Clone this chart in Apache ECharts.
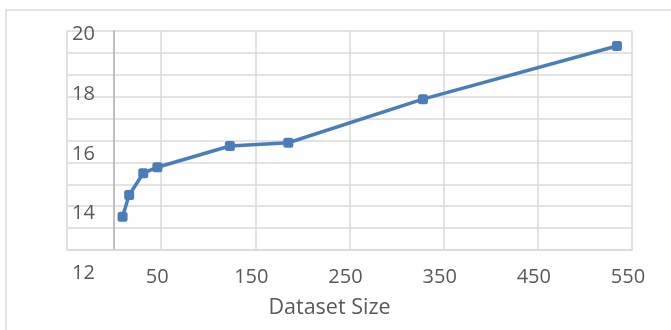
<!DOCTYPE html>
<html>
<head>
<meta charset="utf-8">
<script src="https://cdn.jsdelivr.net/npm/echarts@6/dist/echarts.min.js"></script>
<style>
html,body{margin:0;padding:0;background:#fff;}
#chart{width:671px;height:330px;}
</style>
</head>
<body>
<div id="chart"></div>
<script>
// Data
var datasetSize = [9, 16, 31, 46, 123, 185, 328, 534];
var scoreValues = [13.89, 14.62, 15.35, 15.55, 16.26, 16.37, 17.83, 19.61];
var yTickLabels = [12, 14, 16, 18, 20];
var xTickLabels = [50, 150, 250, 350, 450, 550];
var xAxisTitle = 'Dataset Size';

var textColor = '#595959';
var gridColor = '#d9d9d9';
var lineColor = '#4a7ebb';
var fontFamily = '"Open Sans", "Liberation Sans", sans-serif';

var points = datasetSize.map(function (x, i) { return [x, scoreValues[i]]; });

var chart = echarts.init(document.getElementById('chart'), null, {renderer: 'canvas'});
chart.setOption({
  animation: false,
  backgroundColor: '#fff',
  graphic: [{
    type: 'rect',
    shape: {x: 6, y: 10, width: 700, height: 400},
    style: {fill: 'none', stroke: gridColor, lineWidth: 1.5},
    silent: true
  }],
  grid: [
    {left: 67, right: 39, top: 31, bottom: 80, containLabel: false},
    {left: 67, right: 39, top: 34.4, bottom: 56.8, containLabel: false}
  ],
  xAxis: [
    {
      type: 'value', gridIndex: 0, min: -50, max: 550, interval: 100,
      axisLine: {show: true, onZero: false, lineStyle: {color: gridColor, width: 1.5}},
      axisTick: {show: false},
      splitLine: {show: true, lineStyle: {color: gridColor, width: 1.5}},
      axisLabel: {
        color: textColor, fontSize: 20, fontFamily: fontFamily, margin: 17,
        padding: [0, 8, 0, 0],
        formatter: function (v) { return xTickLabels.indexOf(v) >= 0 ? String(v) : ''; }
      },
      name: xAxisTitle, nameLocation: 'middle', nameGap: 47,
      nameTextStyle: {color: textColor, fontSize: 21.5, fontFamily: fontFamily, padding: [0, 40, 0, 0]}
    },
    {type: 'value', gridIndex: 1, min: 0, max: 1, show: false}
  ],
  yAxis: [
    {
      type: 'value', gridIndex: 0, min: 0, max: 10, interval: 1,
      axisLine: {show: true, onZero: true, lineStyle: {color: '#bfbfbf', width: 2}},
      axisTick: {show: false},
      axisLabel: {show: false},
      splitLine: {show: true, lineStyle: {color: gridColor, width: 1.5}}
    },
    {
      type: 'value', gridIndex: 0, min: 12.777, max: 20.114, show: false,
      splitLine: {show: false}
    },
    {
      type: 'value', gridIndex: 1, min: 12, max: 20, interval: 2,
      axisLine: {show: false}, axisTick: {show: false}, splitLine: {show: false},
      axisLabel: {
        inside: true, margin: 5, color: textColor, fontSize: 20, fontFamily: fontFamily,
        formatter: function (v) { return yTickLabels.indexOf(v) >= 0 ? String(v) : ''; }
      }
    }
  ],
  series: [{
    type: 'line',
    xAxisIndex: 0, yAxisIndex: 1,
    data: points,
    lineStyle: {color: lineColor, width: 3.5},
    itemStyle: {color: lineColor},
    symbol: 'roundRect', symbolSize: 10,
    showSymbol: true
  }]
});
</script>
</body>
</html>
